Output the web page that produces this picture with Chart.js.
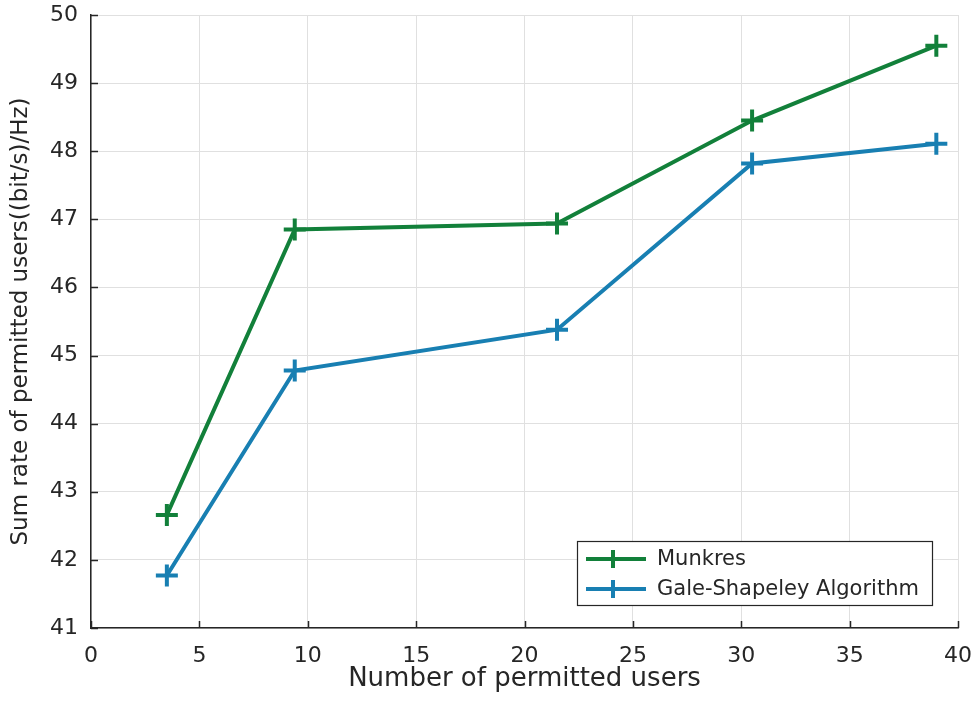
<!DOCTYPE html>
<html>
<head>
<meta charset="utf-8">
<script src="https://cdn.jsdelivr.net/npm/chart.js@4.4.1/dist/chart.umd.min.js"></script>
<style>
  html, body { margin: 0; padding: 0; background: #fff; }
  #wrap { width: 974px; height: 711px; }
</style>
</head>
<body>
<div id="wrap"><canvas id="rateChart" width="974" height="711"></canvas></div>
<script>
// values
const users = [3.5, 9.4, 21.5, 30.5, 39];
const munkres = [42.66, 46.85, 46.94, 48.45, 49.55];
const galeShapley = [41.77, 44.78, 45.38, 47.82, 48.11];
const seriesNames = ["Munkres", "Gale-Shapeley Algorithm"];
const xTicks = [0, 5, 10, 15, 20, 25, 30, 35, 40];
const yTicks = [41, 42, 43, 44, 45, 46, 47, 48, 49, 50];

const GREEN = "#12803a";
const BLUE = "#187fb2";
const TEXT = "#262626";
const FONT = "'DejaVu Sans', 'Liberation Sans', Arial, sans-serif";

// ticks drawn inward like the original plot
const innerTicks = {
  id: "innerTicks",
  afterDatasetsDraw(chart) {
    const { ctx, chartArea, scales } = chart;
    ctx.save();
    ctx.strokeStyle = TEXT;
    ctx.lineWidth = 1.5;
    ctx.beginPath();
    xTicks.forEach(v => {
      const px = Math.round(scales.x.getPixelForValue(v)) + 0.5;
      ctx.moveTo(px, chartArea.bottom);
      ctx.lineTo(px, chartArea.bottom - 7);
    });
    yTicks.forEach(v => {
      const py = Math.round(scales.y.getPixelForValue(v)) + 0.5;
      ctx.moveTo(chartArea.left, py);
      ctx.lineTo(chartArea.left + 7, py);
    });
    ctx.stroke();
    ctx.restore();
  }
};

// boxed legend in the lower right corner of the axes
const boxLegend = {
  id: "boxLegend",
  afterDraw(chart) {
    const { ctx, chartArea } = chart;
    const w = 355, h = 64;
    const x0 = chartArea.right - 26 - w;
    const y0 = chartArea.bottom - 23 - h;
    ctx.save();
    ctx.fillStyle = "#fff";
    ctx.fillRect(x0, y0, w, h);
    ctx.strokeStyle = TEXT;
    ctx.lineWidth = 1.2;
    ctx.strokeRect(x0 + 0.5, y0 + 0.5, w, h);
    ctx.font = "21px " + FONT;
    ctx.textBaseline = "middle";
    chart.data.datasets.forEach((ds, i) => {
      const cy = y0 + 18 + i * 30;
      ctx.strokeStyle = ds.borderColor;
      ctx.lineWidth = 4;
      ctx.beginPath();
      ctx.moveTo(x0 + 9, cy);
      ctx.lineTo(x0 + 69, cy);
      ctx.moveTo(x0 + 36, cy - 9);
      ctx.lineTo(x0 + 36, cy + 9);
      ctx.stroke();
      ctx.fillStyle = TEXT;
      ctx.fillText(ds.label, x0 + 80, cy + 1);
    });
    ctx.restore();
  }
};

const makeSet = (label, data, color) => ({
  label: label,
  data: users.map((u, i) => ({ x: u, y: data[i] })),
  borderColor: color,
  backgroundColor: color,
  borderWidth: 4,
  pointStyle: "cross",
  pointRadius: 11,
  pointBorderWidth: 4,
  pointHoverRadius: 11,
  tension: 0
});

// pin the axes box so the plot area sits where the original one does
const noEdgePad = s => { s.paddingTop = 0; s.paddingBottom = 0; s.paddingLeft = 0; s.paddingRight = 0; };

new Chart(document.getElementById("rateChart"), {
  type: "line",
  data: {
    datasets: [
      makeSet(seriesNames[0], munkres, GREEN),
      makeSet(seriesNames[1], galeShapley, BLUE)
    ]
  },
  options: {
    responsive: false,
    animation: false,
    events: [],
    layout: { padding: { left: 0, top: 14, right: 16, bottom: 0 } },
    plugins: {
      legend: { display: false },
      tooltip: { enabled: false }
    },
    scales: {
      x: {
        type: "linear",
        min: 0,
        max: 40,
        afterBuildTicks: s => { s.ticks = xTicks.map(v => ({ value: v })); },
        afterFit: s => { s.height = 83; noEdgePad(s); },
        grid: { color: "#e0e0e0", lineWidth: 1, drawTicks: false },
        border: { color: TEXT, width: 1.5 },
        ticks: { color: TEXT, padding: 15, font: { family: FONT, size: 22 }, maxRotation: 0 },
        title: {
          display: true,
          text: "Number of permitted users",
          color: TEXT,
          font: { family: FONT, size: 26 },
          padding: { top: 0, bottom: 16 }
        }
      },
      y: {
        min: 41,
        max: 50,
        afterBuildTicks: s => { s.ticks = yTicks.map(v => ({ value: v })); },
        afterFit: s => { s.width = 91; noEdgePad(s); },
        grid: { color: "#e0e0e0", lineWidth: 1, drawTicks: false },
        border: { color: TEXT, width: 1.5 },
        ticks: { color: TEXT, padding: 13, font: { family: FONT, size: 22 } },
        title: {
          display: true,
          text: "Sum rate of permitted users((bit/s)/Hz)",
          color: TEXT,
          font: { family: FONT, size: 23 },
          padding: { top: 7, bottom: 0 }
        }
      }
    }
  },
  plugins: [innerTicks, boxLegend]
});
</script>
</body>
</html>
